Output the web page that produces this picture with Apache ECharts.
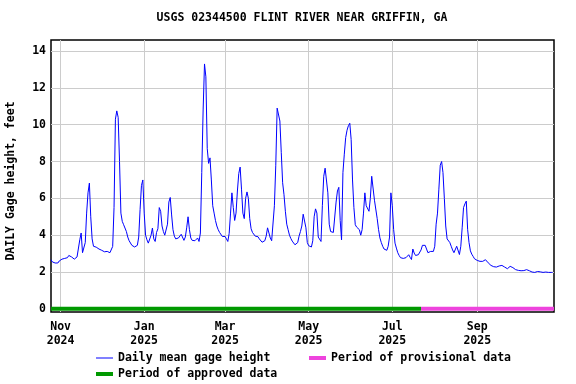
<!DOCTYPE html>
<html>
<head>
<meta charset="utf-8">
<script src="https://cdn.jsdelivr.net/npm/echarts@6/dist/echarts.min.js"></script>
<style>
  html, body { margin: 0; padding: 0; background: #fff; }
  #chart { width: 576px; height: 384px; }
</style>
</head>
<body>
<div id="chart"></div>
<script>
// ---- data ----
const titleText = 'USGS 02344500 FLINT RIVER NEAR GRIFFIN, GA';
const yAxisTitle = 'DAILY Gage height, feet';
const startDate = '2024-10-25';           // first daily value
const axisStart = '2024-10-25';
const axisEnd = '2025-10-27';
// daily mean gage height, feet (one value per day from startDate)
const gageHeight = [
  2.67,2.55,2.49,2.49,2.49,2.49,2.60,2.69,2.70,2.72,
  2.74,2.72,2.78,2.90,2.90,2.82,2.72,2.70,2.80,2.82,
  2.85,3.75,4.12,3.05,3.12,3.60,5.20,6.30,6.83,5.00,
  3.80,3.40,3.30,3.35,3.30,3.25,3.20,3.18,3.08,3.10,
  3.12,3.12,3.08,3.05,3.00,3.39,5.50,10.30,10.75,10.40,
  8.00,5.20,4.75,4.57,4.52,4.20,3.90,3.70,3.60,3.45,
  3.42,3.36,3.36,3.45,3.90,5.40,6.70,7.00,5.20,4.00,
  3.75,3.57,3.60,4.00,4.39,3.80,3.66,4.15,4.35,5.50,
  5.30,4.50,4.20,4.00,4.10,4.60,5.80,6.05,5.10,4.30,
  3.95,3.80,3.75,3.85,3.95,4.05,4.05,3.72,3.90,4.40,
  5.00,4.30,3.85,3.72,3.66,3.70,3.80,3.85,3.66,4.12,
  7.40,10.80,13.30,12.60,8.70,7.90,8.20,7.00,5.60,5.20,
  4.80,4.50,4.30,4.15,4.05,3.93,3.93,3.93,3.80,3.66,
  4.10,5.20,6.30,5.50,4.80,5.20,6.40,7.35,7.70,6.50,
  5.20,4.90,6.00,6.35,6.00,4.90,4.35,4.15,4.07,3.95,
  3.93,3.92,3.80,3.70,3.62,3.62,3.70,3.95,4.40,4.50,
  3.85,3.70,3.62,5.60,7.80,10.90,11.00,10.20,8.50,6.85,
  6.20,5.30,4.60,4.30,4.00,3.82,3.68,3.60,3.48,3.43,
  3.60,3.95,4.20,4.50,5.14,5.16,4.40,3.60,3.43,3.38,
  3.36,3.70,5.00,5.43,5.20,3.90,3.85,3.66,5.60,7.20,
  7.64,7.60,6.30,4.60,4.20,4.10,4.15,4.20,5.80,6.40,
  6.60,4.80,3.75,7.40,8.40,9.30,9.70,9.95,10.08,9.20,
  7.00,5.50,4.57,4.44,4.48,4.30,4.00,4.30,5.20,6.30,
  5.60,5.70,5.30,6.00,7.20,7.30,5.90,6.00,4.90,4.30,
  3.85,3.60,3.40,3.25,3.20,3.18,3.40,3.90,6.30,5.60,
  4.30,3.57,3.30,3.05,2.90,2.78,2.75,2.74,2.75,2.78,
  2.88,2.94,2.80,2.68,3.25,3.03,2.90,2.85,2.94,3.02,
  3.20,3.45,3.54,3.45,3.25,3.05,3.05,3.12,3.12,3.12,
  3.40,4.60,5.20,6.50,7.80,8.00,7.40,6.00,4.50,3.80,
  3.70,3.60,3.40,3.20,3.05,2.95,3.40,3.35,2.95,3.40,
  4.40,5.50,5.70,5.85,4.30,3.60,3.15,2.97,2.85,2.72,
  2.67,2.63,2.60,2.58,2.58,2.58,2.60,2.67,2.62,2.50,
  2.42,2.36,2.31,2.29,2.27,2.27,2.27,2.33,2.36,2.36,
  2.33,2.27,2.20,2.18,2.28,2.31,2.29,2.24,2.18,2.13,
  2.10,2.09,2.09,2.07,2.05,2.08,2.13,2.13,2.13,2.07,
  2.04,2.00,1.99,1.98,2.00,2.03,2.04,2.01,2.00,1.98,
  1.98,2.00,2.00,1.98,1.98,1.98,1.98
];
const approvedPeriod = ['2024-10-25', '2025-07-22'];
const provisionalPeriod = ['2025-07-22', '2025-10-27'];
const xTickDates = ['2024-11-01','2025-01-01','2025-03-01','2025-05-01','2025-07-01','2025-09-01'];
const xTickLabels = ['Nov\n2024','Jan\n2025','Mar\n2025','May\n2025','Jul\n2025','Sep\n2025'];
const yTicks = [0, 2, 4, 6, 8, 10, 12, 14];
const seriesNames = ['Daily mean gage height', 'Period of provisional data', 'Period of approved data'];

// ---- build ----
const DAY = 86400000;
const t0 = Date.parse(startDate);
const gageData = gageHeight.map((v, i) => [t0 + i * DAY, v]);
const xTickTimes = xTickDates.map(d => Date.parse(d));
const FONT = '"DejaVu Sans Mono", "Liberation Mono", monospace';
const txt = { fontFamily: FONT, fontWeight: 'bold', fontSize: 11.5, color: '#000' };

const chart = echarts.init(document.getElementById('chart'));
chart.setOption({
  animation: false,
  backgroundColor: '#fff',
  title: {
    text: titleText, left: 302, top: 12, textAlign: 'center', padding: 0,
    textStyle: Object.assign({}, txt)
  },
  grid: { left: 51, right: 22, top: 40, bottom: 72, show: true, borderColor: '#000', borderWidth: 1.5 },
  xAxis: {
    type: 'value',
    min: Date.parse(axisStart), max: Date.parse(axisEnd),
    axisLine: { show: false },
    axisTick: { show: true, length: 0, customValues: xTickTimes },
    splitLine: { show: true, lineStyle: { color: '#cccccc', width: 1 } },
    axisLabel: Object.assign({
      customValues: xTickTimes,
      lineHeight: 14, margin: 8, hideOverlap: false,
      formatter: function (val) {
        const i = xTickTimes.indexOf(val);
        return i >= 0 ? xTickLabels[i] : '';
      }
    }, txt)
  },
  yAxis: {
    type: 'value', min: -0.17, max: 14.6,
    axisLine: { show: false },
    axisTick: { show: true, length: 0, customValues: yTicks },
    splitLine: { show: true, lineStyle: { color: '#cccccc', width: 1 } },
    axisLabel: Object.assign({ customValues: yTicks, margin: 5 }, txt)
  },
  legend: [
    { data: [seriesNames[0]], left: 96, top: 351, padding: 0, itemWidth: 17, itemHeight: 1, icon: 'rect', textStyle: Object.assign({ height: 14, lineHeight: 14 }, txt) },
    { data: [seriesNames[1]], left: 309, top: 351, padding: 0, itemWidth: 17, itemHeight: 4, icon: 'rect', textStyle: Object.assign({ height: 14, lineHeight: 14 }, txt) },
    { data: [seriesNames[2]], left: 96, top: 367, padding: 0, itemWidth: 17, itemHeight: 4, icon: 'rect', textStyle: Object.assign({ height: 14, lineHeight: 14 }, txt) }
  ],
  graphic: [
    {
      type: 'text', x: 11.5, y: 181, rotation: Math.PI / 2,
      style: { text: yAxisTitle, font: 'bold 11.5px "DejaVu Sans Mono", monospace', fill: '#000', align: 'center', verticalAlign: 'middle' }
    }
  ],
  series: [
    {
      name: seriesNames[0], type: 'line', data: gageData, symbol: 'none',
      lineStyle: { color: '#0000ff', width: 1 }, itemStyle: { color: '#0000ff' }, z: 3
    },
    {
      name: seriesNames[1], type: 'line', symbol: 'none',
      data: [[Date.parse(provisionalPeriod[0]), 0], [Date.parse(provisionalPeriod[1]), 0]],
      lineStyle: { color: '#ee44dd', width: 4 }, itemStyle: { color: '#ee44dd' }, z: 4
    },
    {
      name: seriesNames[2], type: 'line', symbol: 'none',
      data: [[Date.parse(approvedPeriod[0]), 0], [Date.parse(approvedPeriod[1]), 0]],
      lineStyle: { color: '#009900', width: 4 }, itemStyle: { color: '#009900' }, z: 4
    }
  ]
});
</script>
</body>
</html>
